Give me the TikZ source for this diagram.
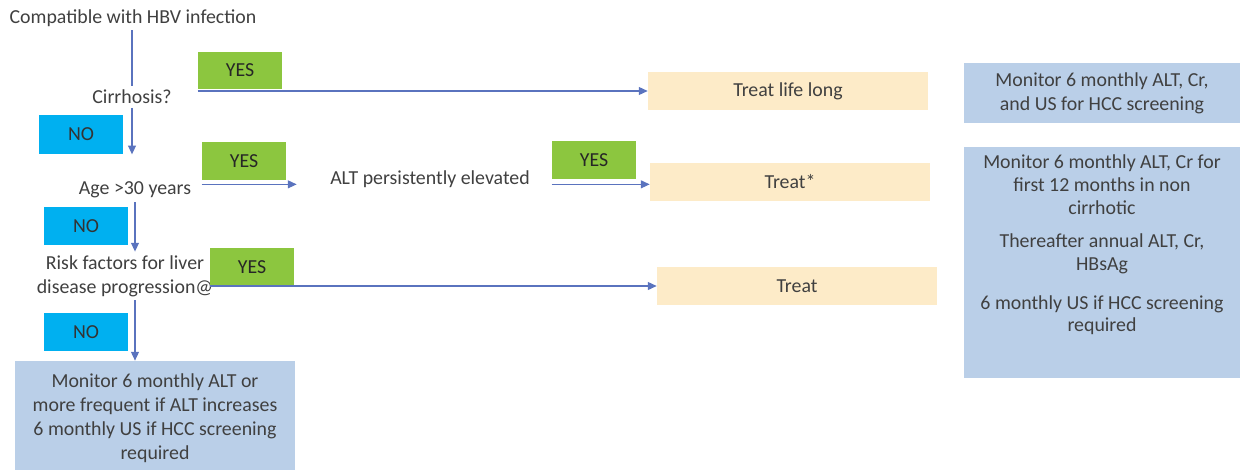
\documentclass[tikz,border=0pt]{standalone}
\usepackage{fontspec}
\setmainfont{Carlito}
\usepackage{tikz}
\usetikzlibrary{arrows.meta, positioning, calc}

\definecolor{yesgreen}{RGB}{140,198,63}
\definecolor{noblue}{RGB}{0,176,240}
\definecolor{treatfill}{RGB}{253,235,200}
\definecolor{monfill}{RGB}{186,207,232}
\definecolor{linkblue}{RGB}{90,115,190}
\definecolor{txtgray}{RGB}{64,64,64}

\begin{document}
\begin{tikzpicture}[
  x=0.02cm, y=-0.02cm,
  font=\fontsize{11.3}{13.6}\selectfont,
  txt/.style={text=txtgray, align=center, inner sep=2pt},
  yesbox/.style={fill=yesgreen, text=black!85, minimum width=1.68cm, minimum height=0.76cm, inner sep=0pt},
  nobox/.style={fill=noblue, text=black!80, minimum width=1.7cm, minimum height=0.78cm, inner sep=0pt},
  treatbox/.style={fill=treatfill, text=txtgray, minimum width=5.6cm, minimum height=0.76cm, inner sep=0pt},
  monbox/.style={fill=monfill, text=txtgray, align=center, minimum width=5.52cm, inner sep=0pt},
  link/.style={draw=linkblue, line width=0.7pt},
  arr/.style={link, -{Triangle[length=5pt, width=4.5pt]}},
]
\useasboundingbox (0,0) rectangle (1242,470);

% questions
\node[txt] (compat) at (133,18)  {Compatible with HBV infection};
\node[txt] (cirr)   at (132,97)  {Cirrhosis?};
\node[txt] (age)    at (135,190) {Age >30 years};
\node[txt] (alt)    at (430,179) {ALT persistently elevated};
\node[txt] (risk)   at (125,276) {Risk factors for liver\\disease progression@};

% answers
\node[yesbox] (yes1) at (240,70.5) {YES};
\node[yesbox] (yes2) at (244,161)  {YES};
\node[yesbox] (yes3) at (594,160)  {YES};
\node[yesbox] (yes4) at (252,267)  {YES};
\node[nobox]  (no1)  at (81,134.5) {NO};
\node[nobox]  (no2)  at (86,226)   {NO};
\node[nobox]  (no3)  at (86,332)   {NO};

% outcomes
\node[treatbox] (life)  at (788,91)  {Treat life long};
\node[treatbox] (star)  at (790,182) {Treat*};
\node[treatbox] (treat) at (797,286) {Treat};
\node[monbox, minimum width=5.6cm, minimum height=2.28cm] (mon) at (155,418)
  {Monitor 6 monthly ALT or\\more frequent if ALT increases\\6 monthly US if HCC screening\\required};
\node[monbox, minimum height=1.22cm] (moncirr) at (1102,93)
  {Monitor 6 monthly ALT, Cr,\\and US for HCC screening};
\node[monbox, minimum height=4.64cm] (montreat) at (1102,262.5) {};
\node[txt, font=\fontsize{11.3}{13}\selectfont] (montreattxt) at (1102,245)
  {Monitor 6 monthly ALT, Cr for\\first 12 months in non\\cirrhotic\\[6pt]
   Thereafter annual ALT, Cr,\\HBsAg\\[9pt]
   6 monthly US if HCC screening\\required};

% connectors
\coordinate (altout) at ($(yes3.south west)+(0,5)$);
\coordinate (ageout) at ($(yes2.south west)+(0,4)$);
\draw[link] (compat.south -| cirr.north) -- (cirr.north);
\draw[arr] (yes1.south west |- life.west) -- (life.west);
\draw[arr] (cirr.south) -- (cirr.south |- no1.south);
\draw[arr] (ageout) -- ++(95,0);
\draw[arr] (altout) -- (altout -| star.west);
\draw[arr] (age.south) -- (age.south |- risk.north);
\draw[arr] (yes4.south west |- treat.west) -- (treat.west);
\draw[arr] (risk.south -| age.south) -- (mon.north -| age.south);
\end{tikzpicture}
\end{document}
